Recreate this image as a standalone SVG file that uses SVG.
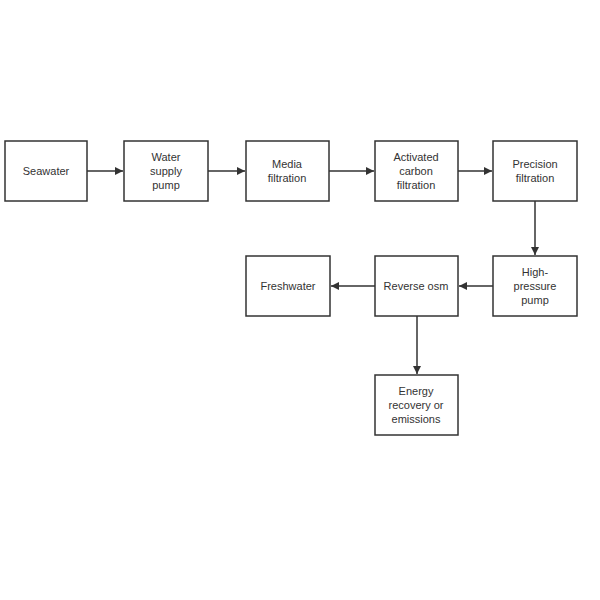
<svg xmlns="http://www.w3.org/2000/svg" width="600" height="600" viewBox="0 0 600 600">
<defs>
<marker id="a" viewBox="0 0 10 10" refX="10" refY="5" markerWidth="8" markerHeight="8" markerUnits="userSpaceOnUse" orient="auto"><path d="M0,0L10,5L0,10z" fill="#333"/></marker>
<style>
.b{fill:#fff;stroke:#333;stroke-width:1.5}
.t{font-family:"Liberation Sans",Arial,sans-serif;font-size:11px;fill:#333;text-anchor:middle}
.c{stroke:#333;stroke-width:1.5;fill:none;marker-end:url(#a)}
</style>
</defs>
<rect width="600" height="600" fill="#fff"/>
<g id="connectors">
<line class="c" x1="87" y1="171" x2="123" y2="171"/>
<line class="c" x1="208" y1="171" x2="245" y2="171"/>
<line class="c" x1="329" y1="171" x2="374" y2="171"/>
<line class="c" x1="458" y1="171" x2="492" y2="171"/>
<line class="c" x1="535" y1="201" x2="535" y2="255"/>
<line class="c" x1="493" y1="286" x2="459" y2="286"/>
<line class="c" x1="375" y1="286" x2="331" y2="286"/>
<line class="c" x1="417" y1="316" x2="417" y2="374"/>
</g>
<g id="seawater"><rect class="b" x="5" y="141" width="82" height="60"/><text class="t" x="46" y="175">Seawater</text></g>
<g id="pump"><rect class="b" x="124" y="141" width="84" height="60"/><text class="t" x="166" y="161">Water</text><text class="t" x="166" y="175">supply</text><text class="t" x="166" y="189">pump</text></g>
<g id="media"><rect class="b" x="246" y="141" width="83" height="60"/><text class="t" x="287" y="168">Media</text><text class="t" x="287" y="182">filtration</text></g>
<g id="carbon"><rect class="b" x="375" y="141" width="83" height="60"/><text class="t" x="416" y="161">Activated</text><text class="t" x="416" y="175">carbon</text><text class="t" x="416" y="189">filtration</text></g>
<g id="precision"><rect class="b" x="493" y="141" width="84" height="60"/><text class="t" x="535" y="168">Precision</text><text class="t" x="535" y="182">filtration</text></g>
<g id="hpp"><rect class="b" x="493" y="256" width="84" height="60"/><text class="t" x="535" y="276">High-</text><text class="t" x="535" y="290">pressure</text><text class="t" x="535" y="304">pump</text></g>
<g id="ro"><rect class="b" x="375" y="256" width="83" height="60"/><text class="t" x="416" y="290">Reverse osm</text></g>
<g id="fresh"><rect class="b" x="246" y="256" width="84" height="60"/><text class="t" x="288" y="290">Freshwater</text></g>
<g id="energy"><rect class="b" x="375" y="375" width="83" height="60"/><text class="t" x="416" y="395">Energy</text><text class="t" x="416" y="409">recovery or</text><text class="t" x="416" y="423">emissions</text></g>
</svg>
